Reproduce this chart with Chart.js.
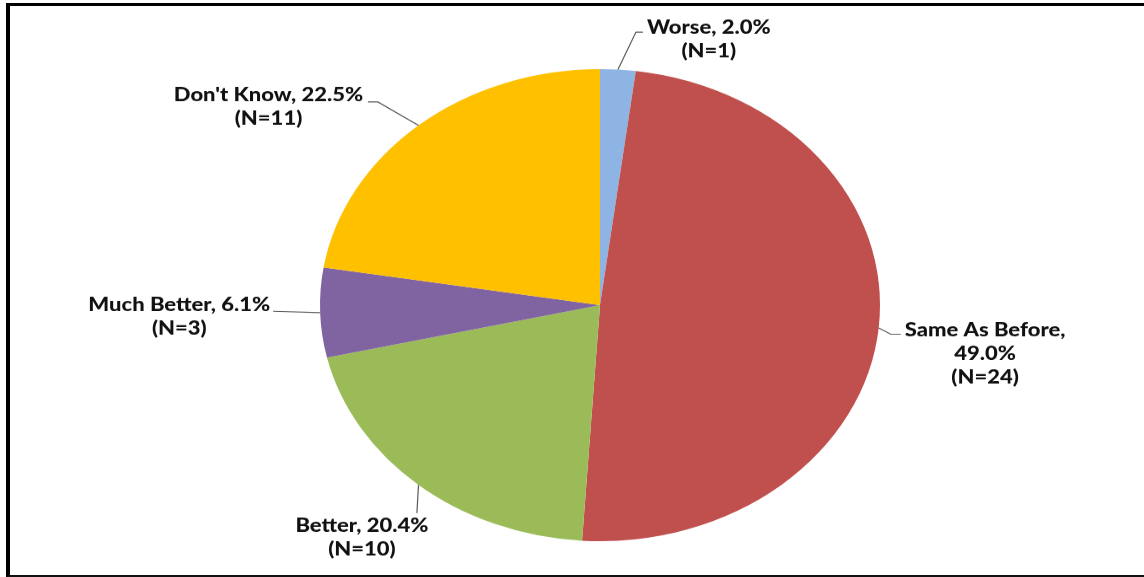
<!DOCTYPE html>
<html>
<head>
<meta charset="utf-8">
<script src="https://cdn.jsdelivr.net/npm/chart.js@4"></script>
<style>
    body { margin: 0; background: #fff; width: 1144px; height: 577px; overflow: hidden; position: relative; }
    .frame {
        position: absolute; left: 6px; top: 3px; width: 1150px; height: 569px;
        border-left: 4px solid #000; border-top: 3px solid #000; border-bottom: 2px solid #111;
    }
    .wrap {
        position: absolute; left: 0; top: 0; width: 1144px; height: 685px;
        transform: scaleY(0.8429); transform-origin: 0 0;
    }
</style>
</head>
<body>
<div class="frame"></div>
<div class="wrap"><canvas id="pie" width="1144" height="685"></canvas></div>
<script>
var categories = ["Worse", "Same As Before", "Better", "Much Better", "Don't Know"];
var counts = [1, 24, 10, 3, 11];
var percents = [2.0, 49.0, 20.4, 6.1, 22.5];
var sliceColors = ["#8EB4E3", "#C0504D", "#9BBB59", "#8064A2", "#FFC000"];

// where each data label sits, relative to the middle of its slice's rim
var labelLayout = [
    { elbow: [18, -44.5], end: [25, -44.5], text: [29, -50], align: "left" },
    { elbow: [12, 7.6], end: [22, 7.6], text: [26, 2.8], align: "left", wrap: true },
    { elbow: [-1.6, 33.5], end: [-1.6, 33.5], text: [-56.6, 48.5], align: "center" },
    { elbow: [-47, -1.7], end: [-47, -1.7], text: [-50, -8.8], align: "right" },
    { elbow: [-40.6, -27.9], end: [-50.6, -27.9], text: [-55.3, -35.8], align: "right" }
];

var leaderLabels = {
    id: "leaderLabels",
    afterDatasetsDraw: function(chart) {
        var ctx = chart.ctx;
        var arcs = chart.getDatasetMeta(0).data;
        ctx.save();
        ctx.font = "900 22px Lato";
        ctx.fillStyle = "#111";
        ctx.strokeStyle = "#595959";
        ctx.lineWidth = 1.2;
        ctx.textBaseline = "middle";
        for (let i = 0; i < arcs.length; i++) {
            const a = arcs[i];
            const mid = (a.startAngle + a.endAngle) / 2;
            const ax = a.x + Math.cos(mid) * a.outerRadius;
            const ay = a.y + Math.sin(mid) * a.outerRadius;
            const lay = labelLayout[i];

            ctx.beginPath();
            ctx.moveTo(ax, ay);
            ctx.lineTo(ax + lay.elbow[0], ay + lay.elbow[1]);
            ctx.lineTo(ax + lay.end[0], ay + lay.end[1]);
            ctx.stroke();

            const pct = percents[i].toFixed(1) + "%";
            let lines;
            if (lay.wrap) {
                lines = [categories[i] + ",", pct, "(N=" + counts[i] + ")"];
            } else {
                lines = [categories[i] + ", " + pct, "(N=" + counts[i] + ")"];
            }
            // lines are centred on each other inside the label box
            let boxW = 0;
            lines.forEach(l => { boxW = Math.max(boxW, ctx.measureText(l).width); });
            let cx = ax + lay.text[0];
            if (lay.align == "left") cx += boxW / 2;
            if (lay.align == "right") cx -= boxW / 2;
            ctx.textAlign = "center";
            for (let j = 0; j < lines.length; j++) {
                ctx.fillText(lines[j], cx, ay + lay.text[1] + j * 28);
            }
        }
        ctx.restore();
    }
};

var ctx = document.getElementById("pie").getContext("2d");
var myChart = new Chart(ctx, {
    type: "pie",
    data: {
        labels: categories,
        datasets: [{
            data: counts,
            backgroundColor: sliceColors,
            borderWidth: 0,
        }],
    },
    options: {
        responsive: false,
        animation: false,
        layout: {
            padding: { left: 320, right: 264, top: 82, bottom: 43 }
        },
        plugins: {
            legend: { display: false },
            tooltip: { enabled: false },
        },
    },
    plugins: [leaderLabels],
});
</script>
</body>
</html>
